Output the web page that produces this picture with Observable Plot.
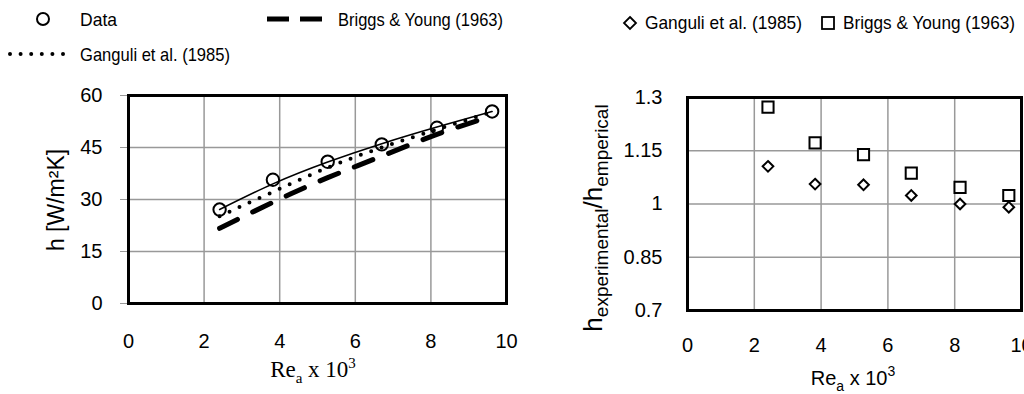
<!DOCTYPE html>
<html><head><meta charset="utf-8">
<script src="https://cdn.jsdelivr.net/npm/d3@7"></script>
<script src="https://cdn.jsdelivr.net/npm/@observablehq/plot@0.6"></script>
<style>
html,body{margin:0;padding:0;background:#fff;overflow:hidden}
#wrap{position:relative;width:1024px;height:394px;font-family:"Liberation Sans",Arial,sans-serif}
#left{position:absolute;left:0;top:80px}
#right{position:absolute;left:560px;top:80px}
#legend{position:absolute;left:0;top:0}
</style></head><body>
<div id="wrap"><div id="left"></div><div id="right"></div><svg id="legend" width="1024" height="80"></svg></div>
<script>
// ---- data ----
const reynolds = [2.41, 3.82, 5.27, 6.70, 8.16, 9.62];
const hData = [27.1, 35.7, 40.9, 45.9, 50.7, 55.4];
const hTrend = [27.1, 34.5, 40.8, 46.1, 50.9, 55.4];
const hGanguli = [25.2, 32.2, 39.2, 45.0, 50.2, 55.3];
const hBriggs = [21.7, 29.2, 36.3, 42.5, 48.8, 54.1];
const ratioGanguli = [1.106, 1.056, 1.054, 1.024, 1.0, 0.991];
const ratioBriggs = [1.273, 1.172, 1.139, 1.087, 1.047, 1.024];
const xTicks = [0, 2, 4, 6, 8, 10];
const hTicks = [0, 15, 30, 45, 60];
const ratioTicks = [0.7, 0.85, 1, 1.15, 1.3];
const legendLeft = ["Data", "Briggs & Young (1963)", "Ganguli et al. (1985)"];
const legendRight = ["Ganguli et al. (1985)", "Briggs & Young (1963)"];

const SANS = "Liberation Sans, Arial, sans-serif";
const NARROW = "Liberation Sans Narrow, Liberation Sans, Arial, sans-serif";
const leftData = reynolds.map((r, i) => ({re: r, data: hData[i], trend: hTrend[i], ganguli: hGanguli[i], briggs: hBriggs[i]}));
const rightData = reynolds.map((r, i) => ({re: r, ganguli: ratioGanguli[i], briggs: ratioBriggs[i]}));
const gridStyle = {stroke: "#999", strokeOpacity: 1, strokeWidth: 1.5};

const left = Plot.plot({
  width: 530, height: 314, marginLeft: 128, marginRight: 24, marginTop: 15, marginBottom: 91,
  style: {fontFamily: SANS, fontSize: "20px", background: "transparent", overflow: "visible", color: "black"},
  x: {domain: [0, 10]}, y: {domain: [0, 60]},
  marks: [
    Plot.gridX(xTicks.slice(1, -1), gridStyle),
    Plot.gridY(hTicks.slice(1, -1), gridStyle),
    Plot.axisX(xTicks, {tickSize: 0, tickPadding: 30, label: null, tickFormat: d => String(d)}),
    Plot.axisY(hTicks, {tickSize: 8, tickPadding: 18, stroke: "#999", label: null, tickFormat: d => String(d)}),
    Plot.line(leftData, {x: "re", y: "briggs", stroke: "black", strokeWidth: 5, strokeDasharray: "20 17", curve: "natural"}),
    Plot.line(leftData, {x: "re", y: "ganguli", stroke: "black", strokeWidth: 4, strokeDasharray: "0 11", strokeLinecap: "round", curve: "natural"}),
    Plot.line(leftData, {x: "re", y: "trend", stroke: "black", strokeWidth: 1.5, curve: "natural"}),
    Plot.dot(leftData, {x: "re", y: "data", r: 6.2, stroke: "black", strokeWidth: 2, fill: "none"}),
    Plot.frame({stroke: "black", strokeWidth: 3})
  ]
});
document.getElementById("left").appendChild(left);

const right = Plot.plot({
  width: 464, height: 314, marginLeft: 127, marginRight: 3, marginTop: 17, marginBottom: 84,
  style: {fontFamily: SANS, fontSize: "20px", background: "transparent", overflow: "visible", color: "black"},
  x: {domain: [0, 10]}, y: {domain: [0.7, 1.3]},
  marks: [
    Plot.gridX(xTicks.slice(1, -1), gridStyle),
    Plot.gridY(ratioTicks.slice(1, -1), gridStyle),
    Plot.axisX(xTicks, {tickSize: 0, tickPadding: 27, label: null, tickFormat: d => String(d)}),
    Plot.axisY(ratioTicks, {tickSize: 0, tickPadding: 25, label: null, tickFormat: d => String(d)}),
    Plot.dot(rightData, {x: "re", y: "briggs", symbol: "square", r: 6.3, stroke: "black", strokeWidth: 2, fill: "white"}),
    Plot.dot(rightData, {x: "re", y: "ganguli", symbol: "diamond2", r: 4.8, stroke: "black", strokeWidth: 2, fill: "white"}),
    Plot.frame({stroke: "black", strokeWidth: 3})
  ]
});
document.getElementById("right").appendChild(right);

// ---- axis titles ----
function xTitle(svg, x, y, family, size, subSize) {
  const t = d3.select(svg).append("text").attr("x", x).attr("y", y).attr("text-anchor", "middle")
    .attr("font-family", family).attr("font-size", size).attr("fill", "black");
  t.append("tspan").text("Re");
  t.append("tspan").attr("font-size", subSize).attr("dy", 6).text("a");
  t.append("tspan").attr("dy", -6).text(" x 10");
  t.append("tspan").attr("font-size", subSize).attr("dy", -9).text("3");
}
xTitle(left, 313, 297, "Liberation Serif, Times New Roman, serif", 23, 15);
xTitle(right, 293, 305, SANS, 20, 14);

d3.select(left).append("text").attr("transform", "translate(64,120) rotate(-90)")
  .attr("text-anchor", "middle").attr("font-family", SANS).attr("font-size", 23).attr("fill", "black")
  .text("h [W/m²K]");

const ry = d3.select(right).append("text").attr("transform", "translate(42,138) rotate(-90)")
  .attr("text-anchor", "middle").attr("font-family", SANS).attr("font-size", 26).attr("fill", "black");
ry.append("tspan").text("h");
ry.append("tspan").attr("font-size", 19).attr("dy", 6).text("experimental");
ry.append("tspan").attr("dy", -6).text("/h");
ry.append("tspan").attr("font-size", 19).attr("dy", 6).text("emperical");

// ---- legends ----
const lg = d3.select("#legend");
const ltext = (x, y, w, s) => lg.append("text").attr("x", x).attr("y", y).attr("font-family", NARROW)
  .attr("font-size", 19).attr("fill", "black").attr("textLength", w).attr("lengthAdjust", "spacingAndGlyphs").text(s);
lg.append("circle").attr("cx", 43).attr("cy", 19).attr("r", 6).attr("fill", "none").attr("stroke", "black").attr("stroke-width", 2);
ltext(80, 26, 37, legendLeft[0]);
lg.append("line").attr("x1", 267).attr("x2", 322).attr("y1", 19).attr("y2", 19).attr("stroke", "black")
  .attr("stroke-width", 5).attr("stroke-dasharray", "22 11");
ltext(338, 26, 165, legendLeft[1]);
lg.append("line").attr("x1", 10).attr("x2", 64).attr("y1", 54).attr("y2", 54).attr("stroke", "black")
  .attr("stroke-width", 4).attr("stroke-linecap", "round").attr("stroke-dasharray", "0 10.6");
ltext(80, 61, 150, legendLeft[2]);
lg.append("path").attr("d", "M630,17L636,23L630,29L624,23Z").attr("fill", "none").attr("stroke", "black").attr("stroke-width", 1.8);
ltext(645, 29, 157, legendRight[0]);
lg.append("rect").attr("x", 822).attr("y", 17).attr("width", 12).attr("height", 12).attr("fill", "none").attr("stroke", "black").attr("stroke-width", 1.8);
ltext(843, 29, 172, legendRight[1]);
</script>
</body></html>
